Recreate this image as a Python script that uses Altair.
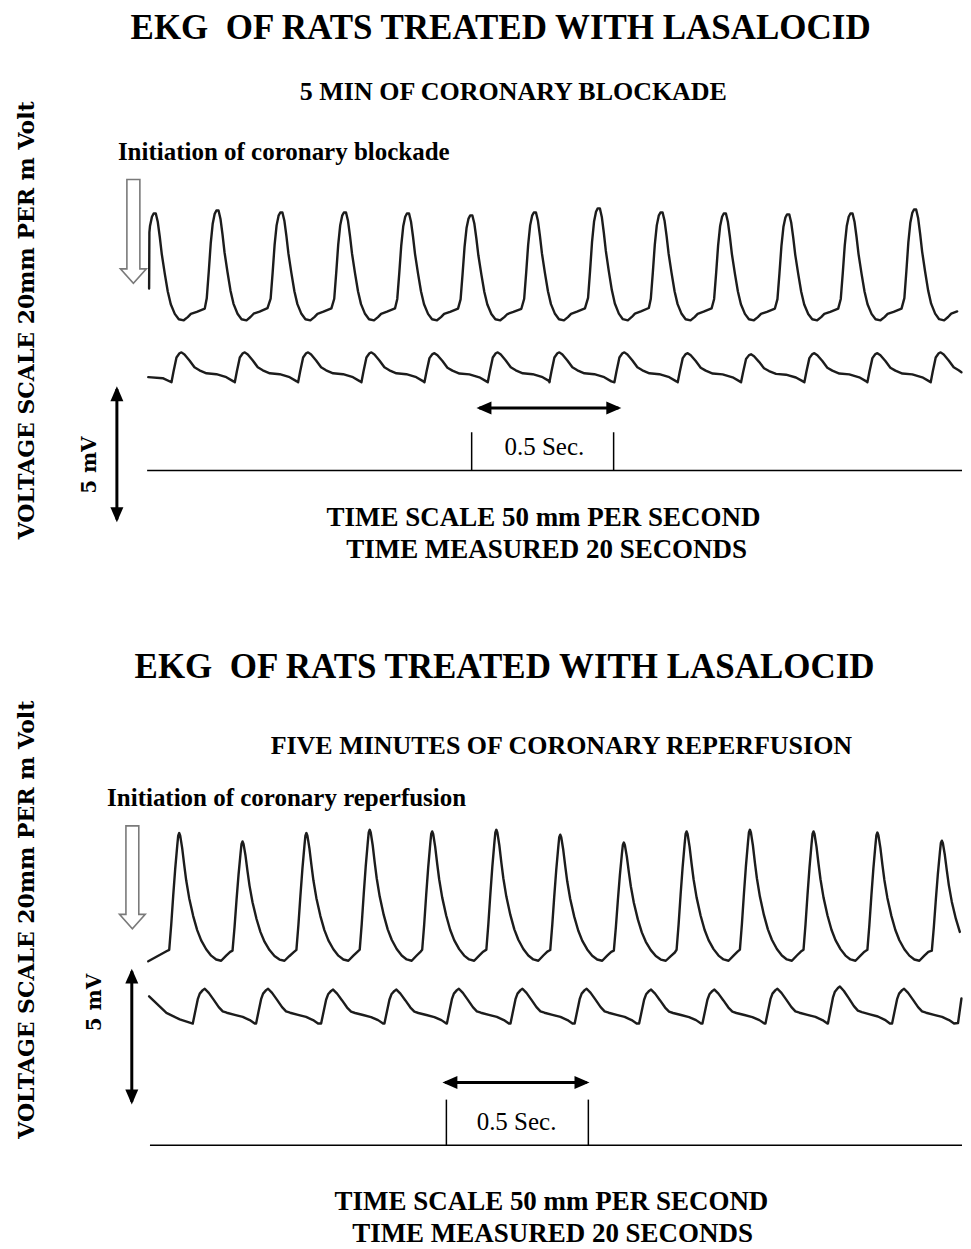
import altair as alt
import pandas as pd

# ---------------- read-off values (time in s, voltage in mV) ----------------
# Panel 1: 5 min of coronary blockade
TOP_BIG_PEAK_T = [0.017, 0.238, 0.463, 0.687, 0.909, 1.132, 1.356, 1.581, 1.802, 2.025, 2.248, 2.471, 2.695]
TOP_BIG_PEAK_V = [9.46, 9.57, 9.50, 9.50, 9.46, 9.39, 9.50, 9.65, 9.50, 9.46, 9.43, 9.46, 9.61]
TOP_BIG_TROUGH_V = 5.53
TOP_BIG_SHAPE_MS = [-38, -31, -24, -17, -10, -4, 3.5, 10.6, 17.6, 24.6, 35, 45.7, 56.3, 70.4, 84.5, 102, 116, 127, 148, 176]
TOP_BIG_SHAPE_F = [0.20, 0.44, 0.70, 0.88, 0.97, 1.0, 1.0, 0.92, 0.78, 0.62, 0.44, 0.27, 0.15, 0.06, 0.01, 0.0, 0.03, 0.06, 0.08, 0.11]
TOP_BIG_START = [(-0.003, 6.70), (-0.002, 8.77)]
TOP_BIG_END = []

TOP_SMALL_PEAK_T = [0.111, 0.334, 0.557, 0.780, 1.002, 1.225, 1.442, 1.671, 1.894, 2.117, 2.340, 2.562, 2.785]
TOP_SMALL_PEAK_V = [4.35, 4.35, 4.35, 4.35, 4.32, 4.35, 4.35, 4.35, 4.32, 4.28, 4.32, 4.32, 4.35]
TOP_SMALL_MIN_V = 3.25
TOP_SMALL_SHAPE_MS = [-35.2, -28.2, -17.6, -7.0, 0, 10.6, 28.2, 45.7, 63.3, 88, 123, 158, 183]
TOP_SMALL_SHAPE_F = [0.0, 0.35, 0.83, 0.97, 1.0, 0.93, 0.73, 0.50, 0.40, 0.30, 0.27, 0.17, 0.03]
TOP_SMALL_START = [(-0.006, 3.44), (0.045, 3.40)]
TOP_SMALL_END = [(2.858, 3.62)]

# Panel 2: five minutes of coronary reperfusion
BOT_BIG_PEAK_T = [0.103, 0.326, 0.551, 0.774, 0.994, 1.220, 1.445, 1.669, 1.890, 2.113, 2.337, 2.562, 2.789]
BOT_BIG_PEAK_V = [11.49, 11.18, 11.49, 11.61, 11.55, 11.61, 11.43, 11.14, 11.55, 11.61, 11.55, 11.51, 11.21]
BOT_BIG_TROUGH_V = 6.79
BOT_BIG_SHAPE_MS = [-35.2, -28.2, -21.1, -14.1, -7.0, -3.5, 0, 3.5, 10.6, 17.6, 24.6, 35.2, 49.3, 63.3, 77.4, 95, 112.6, 130.2, 147.8, 165.4, 179.5]
BOT_BIG_SHAPE_F = [0.085, 0.28, 0.51, 0.72, 0.90, 0.98, 1.0, 0.98, 0.88, 0.75, 0.63, 0.49, 0.35, 0.24, 0.16, 0.09, 0.04, 0.01, 0.0, 0.04, 0.07]
BOT_BIG_START = [(-0.006, 6.77), (0.058, 7.14)]
BOT_BIG_END = []

BOT_SMALL_PEAK_T = [0.193, 0.416, 0.645, 0.868, 1.088, 1.312, 1.538, 1.765, 1.988, 2.210, 2.430, 2.656]
BOT_SMALL_PEAK_V = [5.76, 5.76, 5.73, 5.73, 5.76, 5.76, 5.76, 5.73, 5.73, 5.76, 5.84, 5.76]
BOT_SMALL_MIN_V = 4.48
BOT_SMALL_SHAPE_MS = [-42.2, -35.2, -24.6, -17.6, -7.0, 0, 14.1, 31.7, 49.3, 63.3, 77.4, 105.6, 133.7, 158.4, 176]
BOT_SMALL_SHAPE_F = [0.0, 0.28, 0.70, 0.86, 0.96, 1.0, 0.88, 0.68, 0.47, 0.35, 0.31, 0.25, 0.19, 0.10, 0.0]
BOT_SMALL_START = [(-0.003, 5.48), (0.058, 4.87), (0.105, 4.63)]
BOT_SMALL_END = [(2.846, 4.50), (2.858, 5.40)]

# Text
TITLE = "EKG\u00a0 OF RATS TREATED WITH LASALOCID"
SUB_TOP = "5 MIN OF CORONARY BLOCKADE"
SUB_BOT = "FIVE MINUTES OF CORONARY REPERFUSION"
INIT_TOP = "Initiation of coronary blockade"
INIT_BOT = "Initiation of coronary reperfusion"
VOLT_LABEL = "VOLTAGE SCALE 20mm PER m Volt"
MV_LABEL = "5 mV"
SEC_LABEL = "0.5 Sec."
TIME_1 = "TIME SCALE 50 mm PER SECOND"
TIME_2 = "TIME MEASURED 20 SECONDS"

# ---------------- layout ----------------
X_DOMAIN = [-0.5, 2.86]
T_MAX = 2.859
PANEL_W = 955
TOP_H, TOP_Y = 612, [-5.5, 17.0]
BOT_H, BOT_Y = 621, [-3.5, 19.33]

SERIF = "Liberation Serif"
SLAB = "DejaVu Serif"
INK = "#1c1c1c"

HOLLOW = "M -0.125 -1 L 0.125 -1 L 0.125 0.72 L 0.25 0.72 L 0 1 L -0.25 0.72 L -0.125 0.72 Z"
HEAD = {
    "up": "M 0 0 L 0.65 1.5 L -0.65 1.5 Z",
    "down": "M 0 0 L 0.65 -1.5 L -0.65 -1.5 Z",
    "left": "M 0 0 L 1.5 -0.65 L 1.5 0.65 Z",
    "right": "M 0 0 L -1.5 -0.65 L -1.5 0.65 Z",
}


def trace_df(peak_t, peak_v, base_v, shape_ms, shape_f, start, end):
    rows = list(start)
    t_min = start[-1][0] if start else -1.0
    for p, pv in zip(peak_t, peak_v):
        for ms, f in zip(shape_ms, shape_f):
            t = p + ms / 1000.0
            if t_min < t <= T_MAX:
                rows.append((t, base_v + f * (pv - base_v)))
    rows += list(end)
    return pd.DataFrame({"t": [r[0] for r in rows], "v": [r[1] for r in rows], "i": list(range(len(rows)))})


def panel(h, ydom, traces, rules, heads, hollow, texts):
    xs = alt.Scale(domain=X_DOMAIN, nice=False, zero=False)
    ys = alt.Scale(domain=ydom, nice=False, zero=False)
    X = lambda f="t": alt.X(f"{f}:Q", scale=xs, axis=None)
    Y = lambda f="v": alt.Y(f"{f}:Q", scale=ys, axis=None)
    layers = []
    for df in traces:
        layers.append(
            alt.Chart(df).mark_line(color=INK, strokeWidth=2.4, strokeJoin="round", strokeCap="round")
            .encode(x=X(), y=Y(), order="i:Q")
        )
    for width, rdf in rules:
        layers.append(
            alt.Chart(rdf).mark_rule(color="black", strokeWidth=width)
            .encode(x=X("t"), x2="t2:Q", y=Y("v"), y2="v2:Q")
        )
    for direction, pts in heads.items():
        hdf = pd.DataFrame(pts, columns=["t", "v"])
        layers.append(
            alt.Chart(hdf).mark_point(shape=HEAD[direction], size=400, filled=True, color="black", opacity=1)
            .encode(x=X(), y=Y())
        )
    ht, hv, hsize = hollow
    layers.append(
        alt.Chart(pd.DataFrame({"t": [ht], "v": [hv]}))
        .mark_point(shape=HOLLOW, size=hsize, filled=True, fill="white", stroke="#7a7a7a", strokeWidth=1.6, opacity=1)
        .encode(x=X(), y=Y())
    )
    for txt, t, v, style in texts:
        layers.append(
            alt.Chart(pd.DataFrame({"t": [t], "v": [v], "label": [txt]}))
            .mark_text(baseline="middle", color="black", **style)
            .encode(x=X(), y=Y(), text="label:N")
        )
    return alt.layer(*layers).properties(width=PANEL_W, height=h)


TITLE_S = dict(font=SERIF, fontSize=35, fontWeight="bold", align="center")
SUB_S = dict(font=SERIF, fontSize=26, fontWeight="bold", align="center")
INIT_S = dict(font=SERIF, fontSize=25, fontWeight="bold", align="left")
SEC_S = dict(font=SERIF, fontSize=25, align="center")
TIME_S = dict(font=SERIF, fontSize=27, fontWeight="bold", align="center")
VOLT_S = dict(font=SLAB, fontSize=22, fontWeight="bold", align="center", angle=270)
MV_S = dict(font=SLAB, fontSize=20, fontWeight="bold", align="center", angle=270)

top = panel(
    TOP_H, TOP_Y,
    traces=[
        trace_df(TOP_BIG_PEAK_T, TOP_BIG_PEAK_V, TOP_BIG_TROUGH_V, TOP_BIG_SHAPE_MS, TOP_BIG_SHAPE_F, TOP_BIG_START, TOP_BIG_END),
        trace_df(TOP_SMALL_PEAK_T, TOP_SMALL_PEAK_V, TOP_SMALL_MIN_V, TOP_SMALL_SHAPE_MS, TOP_SMALL_SHAPE_F, TOP_SMALL_START, TOP_SMALL_END),
    ],
    rules=[
        (1.5, pd.DataFrame({"t": [-0.01, 1.133, 1.633], "t2": [2.86, 1.133, 1.633], "v": [0, 0, 0], "v2": [0, 1.41, 1.41]})),
        (3, pd.DataFrame({"t": [1.160, -0.1165], "t2": [1.650, -0.1165], "v": [2.30, -1.8], "v2": [2.30, 3.0]})),
    ],
    heads={"left": [(1.150, 2.30)], "right": [(1.660, 2.30)], "up": [(-0.1165, 3.1)], "down": [(-0.1165, -1.9)]},
    hollow=(-0.0584, 8.80, 10816),
    texts=[
        (TITLE, 1.235, 16.30, TITLE_S),
        (SUB_TOP, 1.280, 13.94, SUB_S),
        (INIT_TOP, -0.113, 11.71, INIT_S),
        (SEC_LABEL, 1.389, 0.86, SEC_S),
        (TIME_1, 1.386, -1.75, TIME_S),
        (TIME_2, 1.397, -2.94, TIME_S),
        (VOLT_LABEL, -0.433, 5.53, VOLT_S),
        (MV_LABEL, -0.2104, 0.2, MV_S),
    ],
)

bottom = panel(
    BOT_H, BOT_Y,
    traces=[
        trace_df(BOT_BIG_PEAK_T, BOT_BIG_PEAK_V, BOT_BIG_TROUGH_V, BOT_BIG_SHAPE_MS, BOT_BIG_SHAPE_F, BOT_BIG_START, BOT_BIG_END),
        trace_df(BOT_SMALL_PEAK_T, BOT_SMALL_PEAK_V, BOT_SMALL_MIN_V, BOT_SMALL_SHAPE_MS, BOT_SMALL_SHAPE_F, BOT_SMALL_START, BOT_SMALL_END),
    ],
    rules=[
        (1.5, pd.DataFrame({"t": [0.0, 1.044, 1.544], "t2": [2.86, 1.044, 1.544], "v": [0, 0, 0], "v2": [0, 1.68, 1.68]})),
        (3, pd.DataFrame({"t": [1.040, -0.064], "t2": [1.538, -0.064], "v": [2.31, 1.6], "v2": [2.31, 6.4]})),
    ],
    heads={"left": [(1.030, 2.31)], "right": [(1.548, 2.31)], "up": [(-0.064, 6.5)], "down": [(-0.064, 1.5)]},
    hollow=(-0.062, 9.86, 10609),
    texts=[
        (TITLE, 1.249, 17.60, TITLE_S),
        (SUB_BOT, 1.449, 14.71, SUB_S),
        (INIT_BOT, -0.151, 12.79, INIT_S),
        (SEC_LABEL, 1.291, 0.87, SEC_S),
        (TIME_1, 1.414, -2.10, TIME_S),
        (TIME_2, 1.418, -3.28, TIME_S),
        (VOLT_LABEL, -0.433, 8.30, VOLT_S),
        (MV_LABEL, -0.194, 5.25, MV_S),
    ],
)

chart = (
    alt.vconcat(top, bottom, spacing=0)
    .properties(padding=0, background="white")
    .configure_view(stroke=None)
)

chart.save("out.html", embed_options={"renderer": "svg", "actions": False})
